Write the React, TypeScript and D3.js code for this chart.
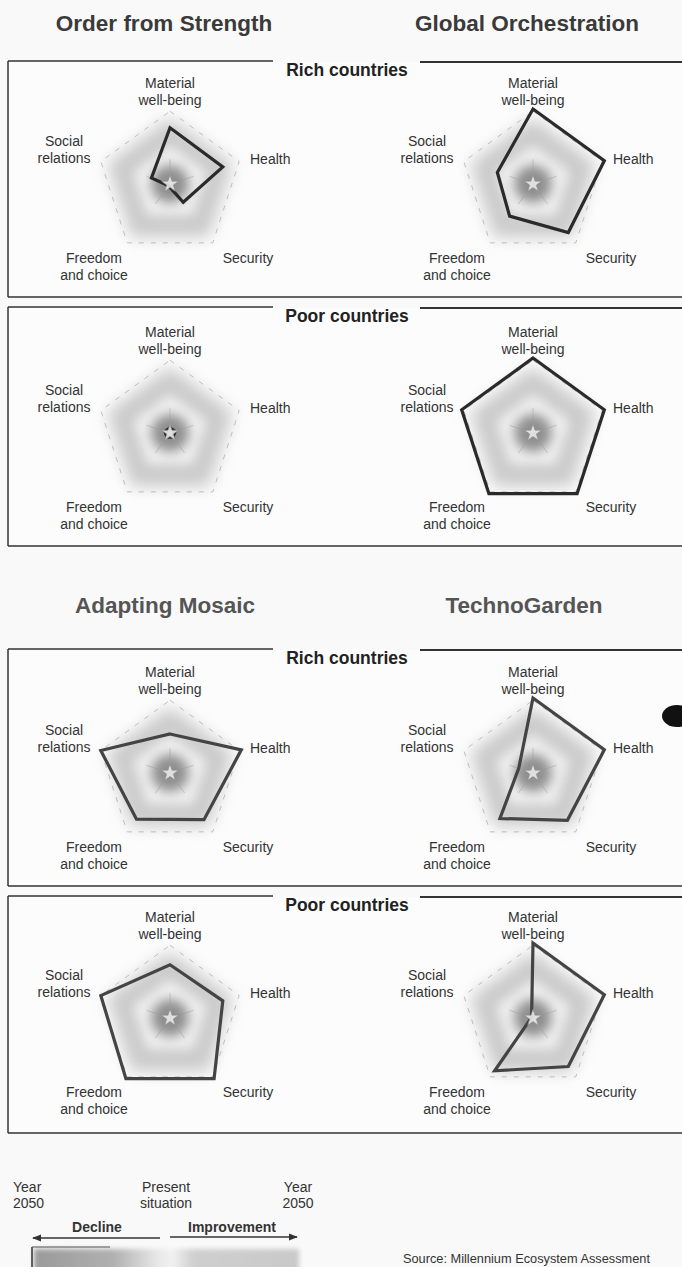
import React from "react";
import * as d3 from "d3";

// ---------- data ----------
const AXES = ["Material well-being", "Health", "Security", "Freedom and choice", "Social relations"];
const AXIS_LABEL_LINES = [["Material", "well-being"], ["Health"], ["Security"], ["Freedom", "and choice"], ["Social", "relations"]];
const SCENARIOS = ["Order from Strength", "Global Orchestration", "Adapting Mosaic", "TechnoGarden"];
const GROUPS = ["Rich countries", "Poor countries"];

// values along axes (Material, Health, Security, Freedom, Social), 0 = centre, 1 = outer edge
const orderFromStrengthRich = [0.75, 0.74, 0.3, 0.03, 0.26];
const orderFromStrengthPoor = [0.07, 0.07, 0.07, 0.07, 0.07];
const globalOrchestrationRich = [1.0, 1.0, 0.8, 0.53, 0.5];
const globalOrchestrationPoor = [1.0, 1.0, 1.0, 1.0, 1.0];
const adaptingMosaicRich = [0.52, 1.0, 0.77, 0.76, 0.97];
const adaptingMosaicPoor = [0.71, 0.74, 1.0, 1.0, 0.97];
const technoGardenRich = [1.0, 1.0, 0.78, 0.75, 0.2];
const technoGardenPoor = [1.0, 1.0, 0.8, 0.87, 0.02];

const LEGEND_YEAR = ["Year", "2050"];
const LEGEND_PRESENT = ["Present", "situation"];
const LEGEND_DIRECTIONS = ["Decline", "Improvement"];
const SOURCE = "Source: Millennium Ecosystem Assessment";

// ---------- layout ----------
const W = 682;
const H = 1267;
const R = 75;
const FONT = "'Liberation Sans', Arial, Helvetica, sans-serif";
const COLS = [170, 533];
const PANELS = [
  { top: 61, bottom: 297, cy: 184, group: 0, series: [orderFromStrengthRich, globalOrchestrationRich] },
  { top: 307, bottom: 546, cy: 433, group: 1, series: [orderFromStrengthPoor, globalOrchestrationPoor] },
  { top: 649, bottom: 886, cy: 773, group: 0, series: [adaptingMosaicRich, technoGardenRich] },
  { top: 896, bottom: 1133, cy: 1018, group: 1, series: [adaptingMosaicPoor, technoGardenPoor] },
];
const TITLES = [
  { x: 164, y: 31, i: 0, fill: "#3a3a3a" },
  { x: 527, y: 31, i: 1, fill: "#3a3a3a" },
  { x: 165, y: 613, i: 2, fill: "#555" },
  { x: 524, y: 613, i: 3, fill: "#555" },
];
// label placement relative to chart centre
const LABEL_POS = [
  { dx: 0, dy: -96, anchor: "middle" },
  { dx: 80, dy: -20, anchor: "start" },
  { dx: 78, dy: 79, anchor: "middle" },
  { dx: -76, dy: 79, anchor: "middle" },
  { dx: -106, dy: -38, anchor: "middle" },
];

const r = d3.scaleLinear().domain([0, 1]).range([0, R]);
const angle = (i: number) => (i * 2 * Math.PI) / AXES.length;
const radial = d3
  .lineRadial<number>()
  .angle((_d, i) => angle(i))
  .radius((d) => r(d))
  .curve(d3.curveLinearClosed);
const ring = (v: number) => radial(AXES.map(() => v)) as string;

function StarGlyph() {
  const pts: string[] = [];
  for (let k = 0; k < 10; k++) {
    const a = -Math.PI / 2 + (k * Math.PI) / 5;
    const rr = k % 2 === 0 ? 9 : 3.5;
    pts.push(`${rr * Math.cos(a)},${rr * Math.sin(a)}`);
  }
  return <polygon points={pts.join(" ")} fill="#e8e8e8" stroke="#8a8a8a" strokeWidth={0.6} opacity={0.9} />;
}

function Radar({ cx, cy, values, dark }: { cx: number; cy: number; values: number[]; dark: string }) {
  return (
    <g transform={`translate(${cx},${cy})`}>
      <path d={ring(0.88)} fill="#cacaca" filter="url(#blurBig)" />
      <path d={ring(0.52)} fill="#f0f0f0" filter="url(#blurMid)" />
      <circle r={r(0.25)} fill="#8e8e8e" filter="url(#blurMid)" />
      <path d={ring(0.97)} fill="none" stroke="#acacac" strokeWidth={1} strokeDasharray="5 7" opacity={0.75} />
      {AXES.map((_a, i) => {
        const a = angle(i) - Math.PI / 2;
        return (
          <line key={i} x1={0} y1={0} x2={r(0.33) * Math.cos(a)} y2={r(0.33) * Math.sin(a)} stroke="#999" strokeWidth={0.8} opacity={0.6} />
        );
      })}
      <path d={radial(values) as string} fill="none" stroke={dark} strokeWidth={3.2} strokeLinejoin="miter" />
      <StarGlyph />
      {AXIS_LABEL_LINES.map((lines, i) => (
        <text key={i} x={LABEL_POS[i].dx} y={LABEL_POS[i].dy} textAnchor={LABEL_POS[i].anchor} fontFamily={FONT} fontSize={14} fill="#333">
          {lines.map((l, j) => (
            <tspan key={j} x={LABEL_POS[i].dx} dy={j === 0 ? 0 : 16.5}>
              {l}
            </tspan>
          ))}
        </text>
      ))}
    </g>
  );
}

export default function App() {
  const barX0 = 32;
  const barX1 = 299;
  return (
    <div style={{ position: "absolute", left: 0, top: 0, width: W, height: H, overflow: "hidden" }}>
      <svg width={W} height={H} viewBox={`0 0 ${W} ${H}`} style={{ display: "block" }}>
        <defs>
          <filter id="blurBig" x="-50%" y="-50%" width="200%" height="200%">
            <feGaussianBlur stdDeviation={8} />
          </filter>
          <filter id="blurMid" x="-80%" y="-80%" width="260%" height="260%">
            <feGaussianBlur stdDeviation={6} />
          </filter>
          <filter id="blurSoft" x="-20%" y="-50%" width="140%" height="200%">
            <feGaussianBlur stdDeviation={2.5} />
          </filter>
          <linearGradient id="legendGrad" x1="0" x2="1" y1="0" y2="0">
            <stop offset="0" stopColor="#9a9a9a" />
            <stop offset="0.3" stopColor="#b0b0b0" />
            <stop offset="0.46" stopColor="#e6e6e6" />
            <stop offset="0.52" stopColor="#f2f2f2" />
            <stop offset="0.6" stopColor="#cfcfcf" />
            <stop offset="1" stopColor="#c9c9c9" />
          </linearGradient>
          <marker id="arrowHead" viewBox="0 0 10 10" refX="9" refY="5" markerWidth="7" markerHeight="7" orient="auto-start-reverse">
            <path d="M0,1 L10,5 L0,9 Z" fill="#333" />
          </marker>
        </defs>
        <rect x={0} y={0} width={W} height={H} fill="#f9f9f9" />

        {TITLES.map((t) => (
          <text key={t.i} x={t.x} y={t.y} textAnchor="middle" fontFamily={FONT} fontWeight="bold" fontSize={22.5} fill={t.fill}>
            {SCENARIOS[t.i]}
          </text>
        ))}

        {PANELS.map((p, pi) => (
          <g key={pi}>
            <rect x={9} y={p.top + 1} width={W - 9} height={p.bottom - p.top - 2} fill="#fcfcfc" />
            <line x1={8} y1={p.top} x2={273} y2={p.top} stroke="#333" strokeWidth={1.6} />
            <line x1={420} y1={p.top + 1} x2={W} y2={p.top + 1} stroke="#333" strokeWidth={1.8} />
            <line x1={8} y1={p.top} x2={8} y2={p.bottom} stroke="#333" strokeWidth={1.5} />
            <line x1={8} y1={p.bottom} x2={W} y2={p.bottom} stroke="#333" strokeWidth={1.6} />
            <text x={347} y={p.top + 15} textAnchor="middle" fontFamily={FONT} fontWeight="bold" fontSize={17.5} fill="#222">
              {GROUPS[p.group]}
            </text>
            {p.series.map((vals, ci) => (
              <Radar key={ci} cx={COLS[ci]} cy={p.cy} values={vals} dark={pi < 2 ? "#2a2a2a" : "#444"} />
            ))}
          </g>
        ))}

        {/* scan artefact at right edge */}
        <ellipse cx={677} cy={716} rx={15} ry={11} fill="#111" />

        {/* legend */}
        <g fontFamily={FONT} fontSize={14} fill="#333">
          <text x={13} y={1192}>{LEGEND_YEAR[0]}</text>
          <text x={13} y={1208}>{LEGEND_YEAR[1]}</text>
          <text x={166} y={1192} textAnchor="middle">{LEGEND_PRESENT[0]}</text>
          <text x={166} y={1208} textAnchor="middle">{LEGEND_PRESENT[1]}</text>
          <text x={298} y={1192} textAnchor="middle">{LEGEND_YEAR[0]}</text>
          <text x={298} y={1208} textAnchor="middle">{LEGEND_YEAR[1]}</text>
          <text x={97} y={1232} textAnchor="middle" fontWeight="bold">{LEGEND_DIRECTIONS[0]}</text>
          <text x={232} y={1232} textAnchor="middle" fontWeight="bold">{LEGEND_DIRECTIONS[1]}</text>
          <text x={403} y={1263} fontSize={12.5} textLength={247} lengthAdjust="spacingAndGlyphs">{SOURCE}</text>
        </g>
        <line x1={160} y1={1238} x2={33} y2={1238} stroke="#333" strokeWidth={1.3} markerEnd="url(#arrowHead)" />
        <line x1={170} y1={1237} x2={297} y2={1237} stroke="#333" strokeWidth={1.3} markerEnd="url(#arrowHead)" />
        <rect x={barX0 + 2} y={1249} width={barX1 - barX0 - 2} height={30} fill="url(#legendGrad)" filter="url(#blurSoft)" />
        <line x1={barX0} y1={1247} x2={barX0} y2={H} stroke="#333" strokeWidth={1.5} />
        <line x1={barX0} y1={1247} x2={110} y2={1247} stroke="#555" strokeWidth={1} />
      </svg>
    </div>
  );
}
